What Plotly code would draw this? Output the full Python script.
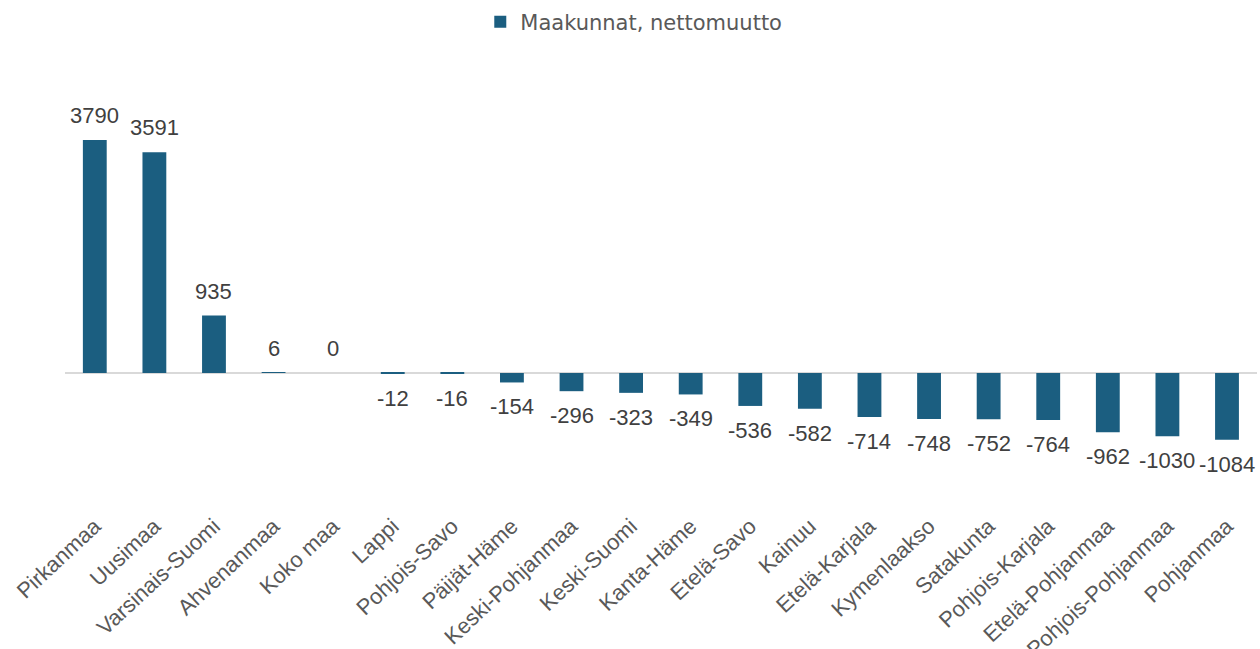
import plotly.graph_objects as go

categories = ["Pirkanmaa", "Uusimaa", "Varsinais-Suomi", "Ahvenanmaa", "Koko maa", "Lappi",
              "Pohjois-Savo", "Päijät-Häme", "Keski-Pohjanmaa", "Keski-Suomi", "Kanta-Häme",
              "Etelä-Savo", "Kainuu", "Etelä-Karjala", "Kymenlaakso", "Satakunta",
              "Pohjois-Karjala", "Etelä-Pohjanmaa", "Pohjois-Pohjanmaa", "Pohjanmaa"]
values = [3790, 3591, 935, 6, 0, -12, -16, -154, -296, -323, -349, -536, -582, -714,
          -748, -752, -764, -962, -1030, -1084]
series_name = "Maakunnat, nettomuutto"

BAR_COLOR = "#1B5E80"
FONT = "Liberation Sans, Arial, sans-serif"

fig = go.Figure()
fig.add_trace(go.Bar(
    x=categories, y=values, name=series_name,
    marker=dict(color=BAR_COLOR, line=dict(width=0)),
    showlegend=True,
))

annotations = []
for c, v in zip(categories, values):
    neg = v < 0
    annotations.append(dict(
        x=c, y=v, xref="x", yref="y", text=str(v), showarrow=False,
        yanchor="top" if neg else "bottom",
        yshift=-10 if neg else 10,
        font=dict(family=FONT, size=22, color="#404040"),
    ))

fig.update_layout(
    width=1260, height=649,
    paper_bgcolor="white", plot_bgcolor="white",
    margin=dict(l=65, r=3, t=80, b=149, autoexpand=False),
    bargap=0.6,
    font=dict(family=FONT, color="#595959"),
    showlegend=True,
    legend=dict(orientation="h", xref="container", yref="container",
                x=0.503, xanchor="center", y=0.966, yanchor="middle",
                font=dict(family="DejaVu Sans, sans-serif", size=21, color="#595959"),
                itemwidth=30),
    annotations=annotations,
    xaxis=dict(tickangle=-43, tickfont=dict(family=FONT, size=22, color="#595959"),
               showline=False, showgrid=False, ticks="", ticklabelstandoff=8,
               automargin=False),
    yaxis=dict(range=[-2066, 4766], showticklabels=False, showgrid=False,
               zeroline=True, zerolinecolor="#D9D9D9", zerolinewidth=1.5,
               automargin=False),
)

fig.write_html("out.html", config={"displayModeBar": False},
               post_script="document.body.style.margin='0';")
